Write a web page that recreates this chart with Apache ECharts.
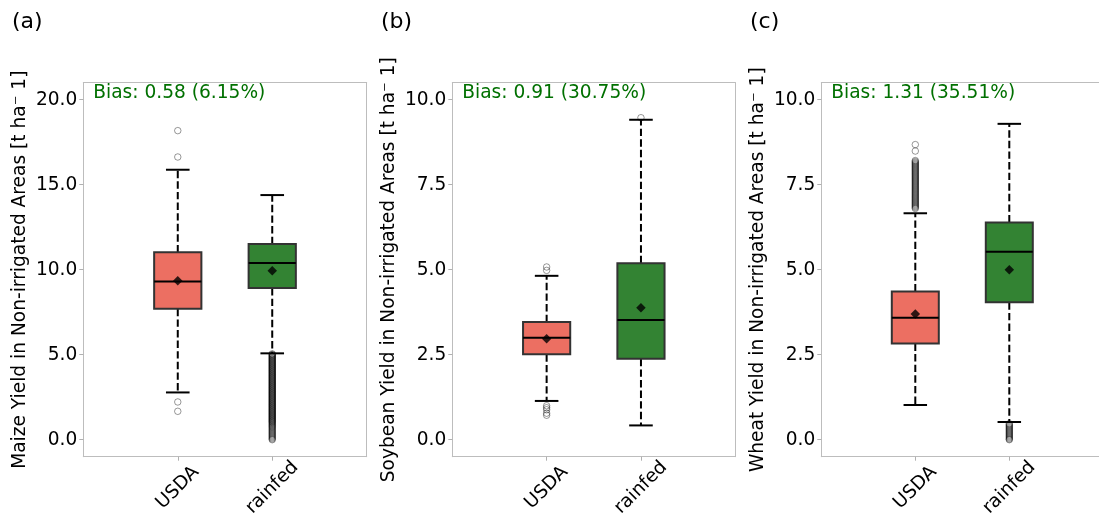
<!DOCTYPE html>
<html>
<head>
<meta charset="utf-8">
<script src="https://cdn.jsdelivr.net/npm/echarts@6/dist/echarts.min.js"></script>
<style>
html,body{margin:0;padding:0;background:#fff;}
#chart{width:1099px;height:518px;}
</style>
</head>
<body>
<div id="chart"></div>
<script>
// ---- data ----
const categories = ['USDA', 'rainfed'];
const panelLabels = ['(a)', '(b)', '(c)'];
const yNames = [
  'Maize Yield in Non-irrigated Areas [t ha\u207B 1]',
  'Soybean Yield in Non-irrigated Areas [t ha\u207B 1]',
  'Wheat Yield in Non-irrigated Areas [t ha\u207B 1]'
];
const biasTexts = ['Bias: 0.58 (6.15%)', 'Bias: 0.91 (30.75%)', 'Bias: 1.31 (35.51%)'];

// [lower whisker, Q1, median, Q3, upper whisker] for USDA, rainfed
const maizeStats = [[2.78, 7.70, 9.31, 11.02, 15.88], [5.08, 8.92, 10.39, 11.51, 14.39]];
const soyStats   = [[1.14, 2.51, 3.00, 3.46, 4.82], [0.42, 2.38, 3.52, 5.19, 9.41]];
const wheatStats = [[1.02, 2.83, 3.59, 4.36, 6.66], [0.52, 4.04, 5.53, 6.39, 9.29]];

const maizeMeans = [9.35, 9.94];
const soyMeans   = [2.97, 3.88];
const wheatMeans = [3.70, 5.00];

const maizeOutUSDA = [18.18, 16.63, 2.22, 1.67];
const maizeOutRainfed = [5.05, 5.01, 4.97, 4.93, 4.89, 4.85, 4.81, 4.77, 4.73, 4.69, 4.65, 4.61, 4.57, 4.53,
  4.49, 4.45, 4.41, 4.37, 4.33, 4.29, 4.25, 4.21, 4.17, 4.13, 4.09, 4.05, 4.01, 3.97, 3.93, 3.89, 3.85,
  3.81, 3.77, 3.73, 3.69, 3.65, 3.61, 3.57, 3.53, 3.49, 3.45, 3.41, 3.37, 3.33, 3.29, 3.25, 3.21, 3.17,
  3.13, 3.09, 3.05, 3.01, 2.97, 2.93, 2.89, 2.85, 2.81, 2.77, 2.73, 2.69, 2.65, 2.61, 2.57, 2.53, 2.49,
  2.45, 2.41, 2.37, 2.33, 2.29, 2.25, 2.21, 2.17, 2.13, 2.09, 2.05, 2.01, 1.97, 1.93, 1.89, 1.85, 1.81,
  1.77, 1.73, 1.69, 1.65, 1.61, 1.57, 1.53, 1.49, 1.45, 1.41, 1.37, 1.33, 1.29, 1.25, 1.21, 1.17, 1.13,
  1.09, 1.05, 1.01, 0.96, 0.91, 0.86, 0.81, 0.76, 0.71, 0.65, 0.59, 0.53, 0.47, 0.41, 0.35, 0.29, 0.23,
  0.17, 0.11, 0.05, 0.00];
const soyOutUSDA = [5.08, 4.98, 1.00, 0.94, 0.88, 0.78, 0.72];
const soyOutRainfed = [9.47];
const wheatOutUSDA = [8.68, 8.49, 8.21, 8.18, 8.15, 8.12, 8.09, 8.06, 8.03, 8.00, 7.97, 7.94, 7.91, 7.88,
  7.85, 7.82, 7.79, 7.76, 7.73, 7.70, 7.67, 7.64, 7.61, 7.58, 7.55, 7.52, 7.49, 7.46, 7.43, 7.40, 7.37,
  7.34, 7.31, 7.28, 7.25, 7.22, 7.19, 7.16, 7.13, 7.10, 7.07, 7.04, 7.01, 6.98, 6.95, 6.92, 6.89, 6.86,
  6.83, 6.80];
const wheatOutRainfed = [0.47, 0.44, 0.41, 0.38, 0.35, 0.32, 0.29, 0.26, 0.23, 0.20, 0.17, 0.14, 0.11,
  0.08, 0.05, 0.02, 0.00];

const yTicksA = [0, 5, 10, 15, 20];
const yTicksBC = [0, 2.5, 5, 7.5, 10];

// ---- styling / layout ----
const boxColors = ['#EC6F62', '#338333'];
const FONT = 'DejaVu Sans';
const FS = 18.6;
const SPINE = '#bdbdbd';
// panel (c) runs past the right edge of the picture: its visible part is 277.7px of a 282px axis (0..3)
const grids = [
  {left: 83.3, top: 82.7, width: 283.4, height: 374},
  {left: 452.3, top: 82.7, width: 283, height: 374},
  {left: 821.3, top: 82.7, width: 277.7, height: 374}
];
const xMax = [3, 3, 3 * 277.7 / 282];
const rightSpine = [true, true, false];
const panels = [
  {stats: maizeStats, means: maizeMeans, out: [maizeOutUSDA, maizeOutRainfed], min: -1, max: 21, ticks: yTicksA},
  {stats: soyStats, means: soyMeans, out: [soyOutUSDA, soyOutRainfed], min: -0.5, max: 10.5, ticks: yTicksBC},
  {stats: wheatStats, means: wheatMeans, out: [wheatOutUSDA, wheatOutRainfed], min: -0.5, max: 10.5, ticks: yTicksBC}
];

function renderBox(params, api) {
  const x = api.value(0);
  const lo = api.value(1), q1 = api.value(2), med = api.value(3), q3 = api.value(4), hi = api.value(5);
  const c = v => api.coord([x, v]);
  const w = api.size([0.5, 0])[0];
  const cw = w / 2;
  const pLo = c(lo), pQ1 = c(q1), pMed = c(med), pQ3 = c(q3), pHi = c(hi);
  const cx = pLo[0];
  const dash = {stroke: '#000', lineWidth: 2, lineDash: [7.4, 3.2]};
  const solid = {stroke: '#000', lineWidth: 2};
  return {
    type: 'group',
    children: [
      {type: 'line', shape: {x1: cx, y1: pQ3[1], x2: cx, y2: pHi[1]}, style: dash},
      {type: 'line', shape: {x1: cx, y1: pQ1[1], x2: cx, y2: pLo[1]}, style: dash},
      {type: 'line', shape: {x1: cx - cw / 2, y1: pHi[1], x2: cx + cw / 2, y2: pHi[1]}, style: solid},
      {type: 'line', shape: {x1: cx - cw / 2, y1: pLo[1], x2: cx + cw / 2, y2: pLo[1]}, style: solid},
      {type: 'rect', shape: {x: cx - w / 2, y: pQ3[1], width: w, height: pQ1[1] - pQ3[1]},
        style: {fill: boxColors[params.dataIndex], stroke: '#333', lineWidth: 2}},
      {type: 'line', shape: {x1: cx - w / 2, y1: pMed[1], x2: cx + w / 2, y2: pMed[1]}, style: solid}
    ]
  };
}

const xAxes = [], yAxes = [], yAxesRight = [], series = [], graphics = [];
panels.forEach((p, i) => {
  // bottom axis (index 2*i)
  xAxes.push({
    gridIndex: i, type: 'value', min: 0, max: xMax[i], position: 'bottom',
    axisLine: {show: true, onZero: false, lineStyle: {color: SPINE, width: 1}},
    splitLine: {show: false},
    axisTick: {show: true, customValues: [1, 2], length: 4, lineStyle: {color: '#b0b0b0'}},
    axisLabel: {
      customValues: [1, 2],
      formatter: v => categories[Math.round(v) - 1] || '',
      rotate: 45, align: 'center', verticalAlign: 'middle', margin: 31,
      fontSize: FS, fontFamily: FONT, color: '#000'
    }
  });
  // top spine (index 2*i+1)
  xAxes.push({
    gridIndex: i, type: 'value', min: 0, max: xMax[i], position: 'top',
    axisLine: {show: true, onZero: false, lineStyle: {color: SPINE, width: 1}},
    axisTick: {show: false}, axisLabel: {show: false}, splitLine: {show: false}
  });
  yAxes.push({
    gridIndex: i, type: 'value', min: p.min, max: p.max, position: 'left',
    name: yNames[i], nameLocation: 'middle', nameGap: 54, nameRotate: 90,
    nameTextStyle: {fontSize: FS, fontFamily: FONT, color: '#000'},
    axisLine: {show: true, onZero: false, lineStyle: {color: SPINE, width: 1}},
    splitLine: {show: false},
    axisTick: {show: true, customValues: p.ticks, length: 4, lineStyle: {color: '#b0b0b0'}},
    axisLabel: {
      customValues: p.ticks, formatter: v => v.toFixed(1),
      margin: 6, fontSize: FS, fontFamily: FONT, color: '#000'
    }
  });
  yAxesRight.push({
    gridIndex: i, type: 'value', min: p.min, max: p.max, position: 'right',
    axisLine: {show: rightSpine[i], onZero: false, lineStyle: {color: SPINE, width: 1}},
    axisTick: {show: false}, axisLabel: {show: false}, splitLine: {show: false}
  });
  series.push({
    type: 'custom', xAxisIndex: 2 * i, yAxisIndex: i,
    renderItem: renderBox,
    encode: {x: 0, y: [1, 2, 3, 4, 5]},
    data: p.stats.map((s, k) => [k + 1].concat(s)),
    z: 2
  });
  p.out.forEach((arr, k) => {
    series.push({
      type: 'scatter', xAxisIndex: 2 * i, yAxisIndex: i,
      symbol: 'circle', symbolSize: 6.5,
      itemStyle: {color: 'rgba(0,0,0,0)', borderColor: 'rgba(0,0,0,0.5)', borderWidth: 1},
      data: arr.map(v => [k + 1, v]),
      z: 3, silent: true
    });
  });
  series.push({
    type: 'scatter', xAxisIndex: 2 * i, yAxisIndex: i,
    symbol: 'diamond', symbolSize: 9.5,
    itemStyle: {color: '#000'},
    data: p.means.map((v, k) => [k + 1, v]),
    z: 4, silent: true
  });
  graphics.push({
    type: 'text', x: grids[i].left + 10, y: 84,
    style: {text: biasTexts[i], font: FS + 'px "' + FONT + '"', fill: '#007000', verticalAlign: 'top'}
  });
});
const labelX = [12, 381, 750];
labelX.forEach((x, i) => {
  graphics.push({type: 'text', x: x, y: 11, style: {text: panelLabels[i], font: '22px "' + FONT + '"', fill: '#000', verticalAlign: 'top'}});
});

const chart = echarts.init(document.getElementById('chart'), null, {renderer: 'canvas'});
chart.setOption({
  animation: false,
  backgroundColor: '#fff',
  grid: grids.map(g => Object.assign({show: false, containLabel: false, outerBoundsMode: 'none'}, g)),
  xAxis: xAxes,
  yAxis: yAxes.concat(yAxesRight),
  series: series,
  graphic: graphics
});
</script>
</body>
</html>
